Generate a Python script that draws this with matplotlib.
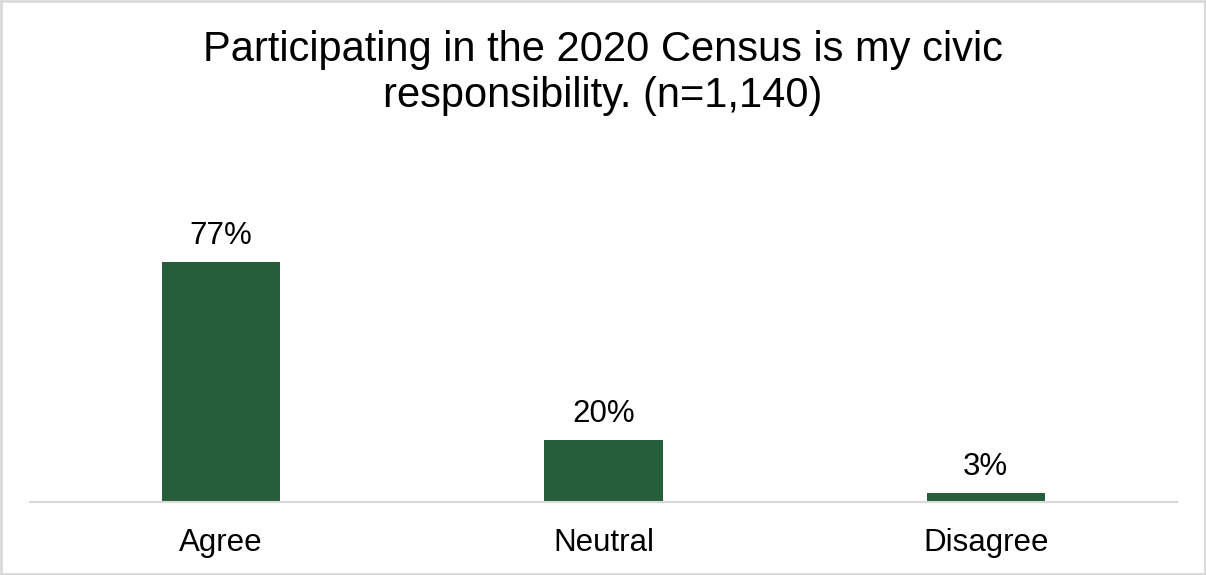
import matplotlib.pyplot as plt

# ==================================
# DATA
# ==================================

categories = ["Agree", "Neutral", "Disagree"]
values = [77, 20, 3]

title = "Participating in the 2020 Census is my civic\nresponsibility. (n=1,140)"

bar_color = "#265E3B"

plt.rcParams["font.family"] = ["Liberation Sans", "DejaVu Sans"]

# ==================================
# FIGURE
# ==================================

fig = plt.figure(figsize=(12.06, 5.75), dpi=100)
ax = fig.add_axes([30 / 1206, 73 / 575, 1147 / 1206, 332 / 575])

x = range(len(categories))
bars = ax.bar(x, values, width=0.31, color=bar_color)

ax.set_xlim(-0.5, 2.5)
ax.set_ylim(0, 332 / 3.117)

for rect, v in zip(bars, values):
    ax.annotate(
        f"{v}%",
        (rect.get_x() + rect.get_width() / 2, rect.get_height()),
        xytext=(0, 13),
        textcoords="offset points",
        ha="center",
        va="baseline",
        fontsize=22.5,
    )

ax.set_xticks(list(x))
ax.set_xticklabels(categories, fontsize=22.5)
ax.tick_params(axis="x", length=0, pad=19)
ax.set_yticks([])

for side in ["top", "right", "left"]:
    ax.spines[side].set_visible(False)
ax.spines["bottom"].set_color("#d9d9d9")
ax.spines["bottom"].set_linewidth(1.5)

fig.text(0.5, 1 - 107 / 575, title, ha="center", va="baseline",
         fontsize=30, linespacing=1.18)

# light border around the chart
border = plt.Rectangle((0.001, 0.002), 0.998, 0.996, transform=fig.transFigure,
                       fill=False, edgecolor="#d9d9d9", linewidth=2)
fig.patches.append(border)

fig.savefig("out.png", dpi=100)
plt.close()
